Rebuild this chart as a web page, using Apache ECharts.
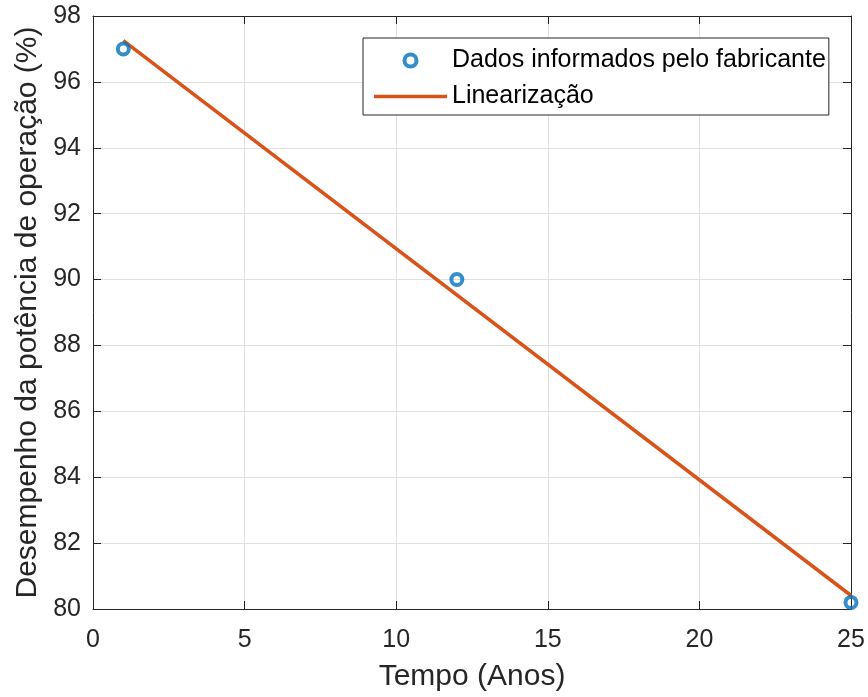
<!DOCTYPE html>
<html>
<head>
<meta charset="utf-8">
<script src="https://cdn.jsdelivr.net/npm/echarts@6/dist/echarts.min.js"></script>
<style>
  html, body { margin: 0; padding: 0; background: #fff; }
  #chart { width: 868px; height: 697px; }
</style>
</head>
<body>
<div id="chart"></div>
<script>
// Manufacturer data: years of operation vs. power performance (%)
const anos = [1, 12, 25];
const desempenho = [97, 90, 80.2];

// Fitted straight line, end points
const linAnos = [1, 25];
const linDesempenho = [97.25, 80.41];

const xTicks = { min: 0, max: 25, step: 5 };
const yTicks = { min: 80, max: 98, step: 2 };

const FONT = '"Liberation Sans", Arial, Helvetica, sans-serif';
const AXIS_COLOR = '#262626';
const GRID_COLOR = '#e0e0e0';
const BLUE = '#0072BD';
const ORANGE = '#D95319';

const chart = echarts.init(document.getElementById('chart'), null, { renderer: 'canvas' });

const baseAxis = {
  type: 'value',
  axisLine: { show: true, onZero: false, lineStyle: { color: AXIS_COLOR, width: 1 } },
  axisTick: { show: true, inside: true, length: 8, lineStyle: { color: AXIS_COLOR, width: 1 } },
};

chart.setOption({
  animation: false,
  backgroundColor: '#ffffff',
  grid: { left: 93, right: 17, top: 16, bottom: 87, containLabel: false },
  xAxis: [
    Object.assign({}, baseAxis, {
      position: 'bottom',
      min: xTicks.min, max: xTicks.max, interval: xTicks.step,
      name: 'Tempo (Anos)',
      nameLocation: 'middle', nameGap: 53,
      nameTextStyle: { fontFamily: FONT, fontSize: 30, color: AXIS_COLOR },
      axisLabel: { fontFamily: FONT, fontSize: 25, color: AXIS_COLOR, margin: 19 },
      splitLine: { show: true, lineStyle: { color: GRID_COLOR, width: 1 } },
    }),
    Object.assign({}, baseAxis, {
      position: 'top',
      min: xTicks.min, max: xTicks.max, interval: xTicks.step,
      axisLabel: { show: false },
      splitLine: { show: false },
    }),
  ],
  yAxis: [
    Object.assign({}, baseAxis, {
      position: 'left',
      min: yTicks.min, max: yTicks.max, interval: yTicks.step,
      name: 'Desempenho da potência de operação (%)',
      nameLocation: 'middle', nameGap: 50,
      nameTextStyle: { fontFamily: FONT, fontSize: 30, color: AXIS_COLOR },
      axisLabel: { fontFamily: FONT, fontSize: 25, color: AXIS_COLOR, margin: 12 },
      splitLine: { show: true, lineStyle: { color: GRID_COLOR, width: 1 } },
    }),
    Object.assign({}, baseAxis, {
      position: 'right',
      min: yTicks.min, max: yTicks.max, interval: yTicks.step,
      axisLabel: { show: false },
      splitLine: { show: false },
    }),
  ],
  legend: {
    orient: 'vertical',
    left: 363, top: 38,
    padding: [10, 3, 6, 11],
    itemGap: 11,
    itemWidth: 73,
    itemHeight: 12,
    borderColor: AXIS_COLOR,
    borderWidth: 1,
    borderRadius: 0,
    backgroundColor: '#ffffff',
    textStyle: { fontFamily: FONT, fontSize: 25, color: '#000' },
    data: [
      { name: 'Dados informados pelo fabricante', icon: 'circle',
        itemStyle: { color: '#ffffff', borderColor: BLUE, borderWidth: 4 } },
      { name: 'Linearização', icon: 'path://M0,0 L73,0 L73,3.5 L0,3.5 Z',
        itemStyle: { color: ORANGE, borderWidth: 0 } },
    ],
  },
  series: [
    {
      name: 'Linearização',
      type: 'line',
      data: linAnos.map((x, i) => [x, linDesempenho[i]]),
      symbol: 'none',
      lineStyle: { color: ORANGE, width: 3.5 },
      itemStyle: { color: ORANGE },
      z: 2,
    },
    {
      name: 'Dados informados pelo fabricante',
      type: 'scatter',
      data: anos.map((x, i) => [x, desempenho[i]]),
      symbol: 'circle',
      symbolSize: 11,
      itemStyle: { color: 'rgba(255,255,255,0)', borderColor: BLUE, borderWidth: 4 },
      z: 3,
    },
  ],
});
</script>
</body>
</html>
